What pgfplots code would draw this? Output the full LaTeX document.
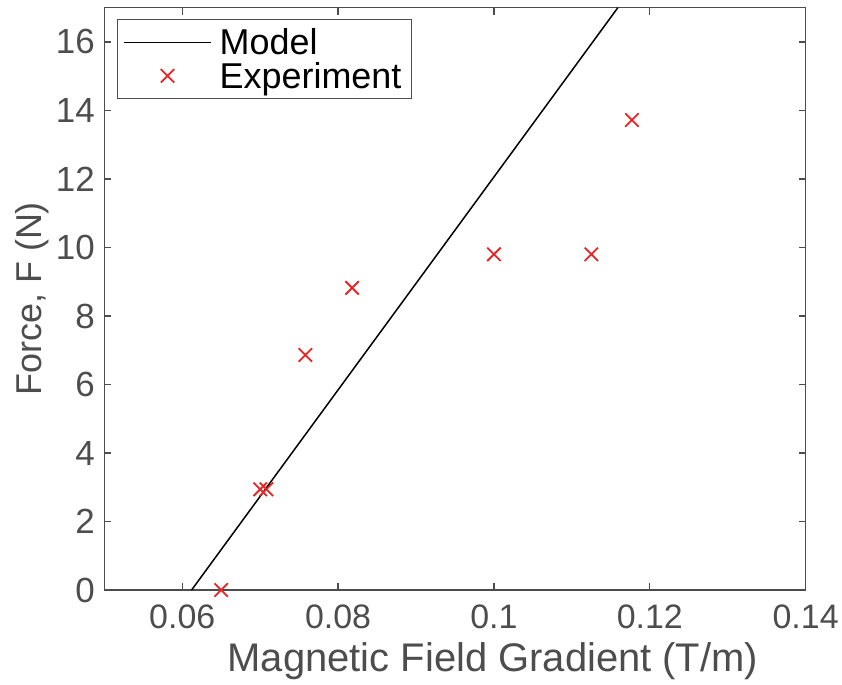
\documentclass[border=0pt]{standalone}
\usepackage{fontspec}
\setmainfont{Liberation Sans}
\usepackage{pgfplots}
\pgfplotsset{compat=1.18}
\definecolor{axgray}{RGB}{77,77,77}
\definecolor{mred}{RGB}{235,35,35}
\begin{document}
\begin{tikzpicture}
\begin{axis}[
    scale only axis,
    width=702.5pt, height=583.3pt,
    xmin=0.05, xmax=0.14,
    ymin=0, ymax=17,
    xtick={0.06,0.08,0.1,0.12,0.14},
    xticklabels={0.06,0.08,0.1,0.12,0.14},
    ytick={0,2,...,16},
    tick align=inside,
    major tick length=7pt,
    axis line style={axgray, line width=1.3pt},
    every tick/.style={axgray, line width=1.3pt},
    tick label style={font=\fontsize{34}{36}\selectfont, text=axgray},
    xticklabel style={yshift=-11pt},
    yticklabel style={xshift=-6pt, font=\fontsize{35}{36}\selectfont},
    /pgf/number format/assume math mode=true,
    xlabel={Magnetic Field Gradient (T/m)},
    ylabel={Force, F (N)},
    xlabel style={font=\fontsize{40}{42}\selectfont, text=axgray, yshift=-7pt, xshift=38pt},
    ylabel style={font=\fontsize{36}{40}\selectfont, text=axgray},
    legend style={at={(0.0178,0.9806)}, anchor=north west,
        draw=axgray, line width=1.1pt,
        font=\fontsize{36}{38}\selectfont, text=black,
        inner xsep=6pt, inner ysep=8pt,
        nodes={inner xsep=4pt, inner ysep=1pt},
        row sep=4pt,
        /tikz/every odd column/.append style={column sep=4pt},
        /tikz/every even column/.append style={column sep=0pt}},
    legend cell align=left,
]
\addplot[black, line width=1.5pt,
    legend image code/.code={\draw (0pt,0pt) -- (87pt,0pt);}]
    coordinates {(0.0612,0) (0.1159,17)};
\addlegendentry{Model}
\addplot[only marks, mark=x, mark size=9.5pt, mred, line width=1.8pt,
    legend image code/.code={\draw[mark repeat=2, mark phase=2]
        plot coordinates {(0pt,0pt) (43.5pt,0pt) (87pt,0pt)};}]
    coordinates {
    (0.0650,0)
    (0.0700,2.94)
    (0.0708,2.94)
    (0.0758,6.86)
    (0.0818,8.82)
    (0.1000,9.80)
    (0.1125,9.80)
    (0.1177,13.72)
};
\addlegendentry{Experiment}
\end{axis}
\path (current axis.south west) ++(-104.5pt,-95pt);
\path (current axis.north east) ++(35pt,7.7pt);
\end{tikzpicture}
\end{document}
